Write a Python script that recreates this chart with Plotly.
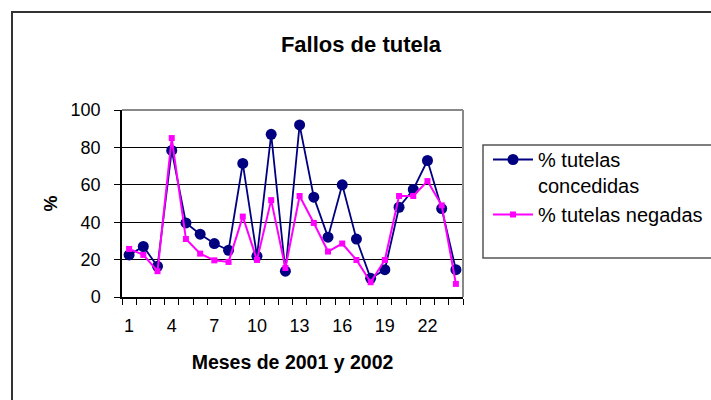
import plotly.graph_objects as go

months = list(range(1, 25))
concedidas = [22.5, 27, 16.4, 78.4, 39.6, 33.6, 28.6, 25, 71.4, 21.8, 87, 13.8,
              92, 53.4, 32, 60, 31, 10, 14.6, 48, 57.5, 73, 47.3, 14.6]
negadas = [25.7, 22.5, 13.8, 85, 31, 23.2, 19.6, 18.75, 43, 19.8, 51.8, 15.5,
           54, 39.6, 24.3, 28.6, 19.8, 7.9, 19.8, 54, 54, 62, 49, 7]
x_ticks = [1, 4, 7, 10, 13, 16, 19, 22]
y_ticks = [0, 20, 40, 60, 80, 100]

FONT = "Liberation Sans, Arial, sans-serif"

L, R, T, B = 122, 463, 110, 297
W, H = R - L, B - T


def px(x):
    return (x - L) / W


def py(y):
    return (B - y) / H


fig = go.Figure()
fig.add_trace(go.Scatter(
    x=months, y=concedidas, mode="lines+markers",
    name="% tutelas<br>concedidas",
    line=dict(color="#000080", width=1.8),
    marker=dict(symbol="circle", size=11, color="#000080"),
))
fig.add_trace(go.Scatter(
    x=months, y=negadas, mode="lines+markers",
    name="% tutelas negadas",
    line=dict(color="#FF00FF", width=2),
    marker=dict(symbol="square", size=6, color="#FF00FF"),
))

fig.update_layout(
    width=711, height=400,
    margin=dict(l=L, r=711 - R, t=T, b=400 - B, autoexpand=False),
    paper_bgcolor="white", plot_bgcolor="white",
    font=dict(family=FONT, size=18, color="black"),
    title=dict(text="<b>Fallos de tutela</b>", x=361 / 711, xanchor="center",
               xref="container", yref="container",
               y=1 - 44 / 400, yanchor="middle", font=dict(size=22, family=FONT)),
    showlegend=True,
    legend=dict(x=px(488), xanchor="left", y=py(140), yanchor="top",
                bgcolor="rgba(0,0,0,0)", borderwidth=0, valign="top",
                font=dict(size=20, family=FONT), tracegroupgap=13,
                itemwidth=40),
)

# outer chart border: left edge (line) and top edge (thin filled band)
fig.add_shape(type="line", xref="paper", yref="paper",
              x0=px(12), x1=px(12), y0=py(440), y1=py(11),
              line=dict(color="#333333", width=2), layer="above")
fig.add_shape(type="rect", xref="paper", yref="paper",
              x0=px(11), x1=px(760), y0=py(13), y1=py(11),
              fillcolor="#333333", line=dict(width=0), layer="above")
# legend box
fig.add_shape(type="rect", xref="paper", yref="paper",
              x0=px(483), x1=px(735), y0=py(258), y1=py(145),
              line=dict(color="#555555", width=1.5), layer="below")
# plot area top/right border (gray)
fig.add_shape(type="line", xref="x domain", yref="y domain",
              x0=0, x1=1, y0=1, y1=1, line=dict(color="#888888", width=2), layer="above")
fig.add_shape(type="line", xref="x domain", yref="y domain",
              x0=1, x1=1, y0=0, y1=1, line=dict(color="#888888", width=2), layer="above")

fig.update_xaxes(
    range=[0.5, 24.5], tickmode="array", tickvals=x_ticks,
    ticktext=[str(v) for v in x_ticks],
    ticks="outside", ticklen=0, tickcolor="black",
    minor=dict(ticks="outside", tick0=0.5, dtick=1, ticklen=6,
               tickcolor="black", tickwidth=1, showgrid=False),
    showline=True, linecolor="black", linewidth=1.5,
    showgrid=False, zeroline=False,
    ticklabelstandoff=12,
    title=dict(text="<b>Meses de 2001 y 2002</b>", standoff=20,
               font=dict(size=19.5, family=FONT)),
    tickfont=dict(size=18, family=FONT),
)
fig.update_yaxes(
    range=[0, 100], tickmode="array", tickvals=y_ticks,
    ticks="outside", ticklen=6, tickcolor="black", tickwidth=1,
    showline=True, linecolor="black", linewidth=1.5,
    showgrid=True, gridcolor="black", gridwidth=1, zeroline=False,
    ticklabelstandoff=10,
    title=dict(text="<b>%</b>", standoff=8, font=dict(size=18, family=FONT)),
    tickfont=dict(size=18, family=FONT),
)

fig.write_html(
    "out.html",
    config={"displayModeBar": False},
    post_script="document.body.style.margin='0';document.body.style.overflow='hidden';",
)
